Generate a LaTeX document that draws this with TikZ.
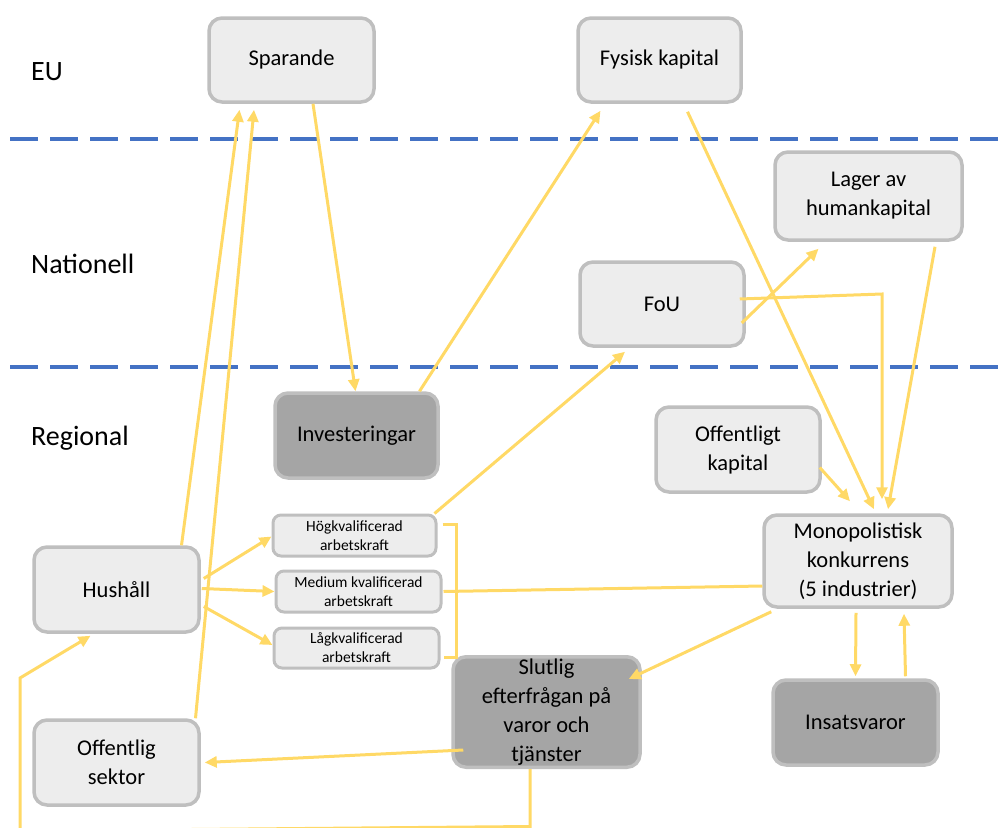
\documentclass[tikz,border=0pt]{standalone}
\usepackage{fontspec}
\setmainfont{Carlito}
\usetikzlibrary{arrows.meta}
\definecolor{boxfill}{HTML}{EDEDED}
\definecolor{boxline}{HTML}{BFBFBF}
\definecolor{darkfill}{HTML}{A5A5A5}
\definecolor{connc}{HTML}{FFD966}
\definecolor{dashblue}{HTML}{4472C4}
\begin{document}
\begin{tikzpicture}[x=1pt,y=-1pt,
  box/.style={draw=boxline, fill=boxfill, line width=3.5pt, rounded corners=13pt,
    align=center, inner sep=2pt, font=\fontsize{22.5}{29}\selectfont},
  darkbox/.style={box, fill=darkfill},
  smallbox/.style={box, rounded corners=8pt, line width=3pt, font=\fontsize{15.5}{19}\selectfont},
  level/.style={anchor=west, inner sep=0pt, font=\fontsize{28}{32}\selectfont},
  conn/.style={draw=connc, line width=3pt, -{Triangle[length=12pt,width=11pt]}},
  plain/.style={draw=connc, line width=3pt},
  sep/.style={draw=dashblue, line width=3.5pt, dash pattern=on 28pt off 12pt}
]
\useasboundingbox (0,0) rectangle (1008,827);

% separators
\draw[sep] (10,139) -- (1008,139);
\draw[sep] (10,367) -- (1008,367);

% level labels
\node[level] (eu) at (31,72) {EU};
\node[level] (nat) at (31,264) {Nationell};
\node[level] (reg) at (31,438) {Regional};

% helper corner coordinates
\coordinate (fouc) at (882,294);
\coordinate (bot1) at (530,826.5);
\coordinate (bot2) at (20,831);
\coordinate (bot3) at (20,678);

% boxes
\node[box, minimum width=165pt, minimum height=84pt] (spar) at (291.5,60) {Sparande};
\node[box, minimum width=163pt, minimum height=84pt] (fys) at (659.5,60) {Fysisk kapital};
\node[box, minimum width=187pt, minimum height=88pt] (lag) at (868.5,196) {Lager av\\humankapital};
\node[box, minimum width=164pt, minimum height=84pt] (fou) at (662,304) {FoU};
\node[darkbox, minimum width=163pt, minimum height=85pt] (inv) at (356.5,435.5) {Investeringar};
\node[box, minimum width=164pt, minimum height=85pt] (ok) at (738,449.5) {Offentligt\\kapital};
\node[box, minimum width=188pt, minimum height=92pt] (mono) at (858,561) {Monopolistisk\\konkurrens\\(5 industrier)};
\node[box, minimum width=165pt, minimum height=85pt] (hush) at (116.5,589.5) {Hushåll};
\node[smallbox, minimum width=163pt, minimum height=41pt] (hog) at (354.5,535.5) {Högkvalificerad\\arbetskraft};
\node[smallbox, minimum width=165pt, minimum height=41pt] (med) at (358.5,591.5) {Medium kvalificerad\\arbetskraft};
\node[smallbox, minimum width=165pt, minimum height=40pt] (low) at (356.5,648) {Lågkvalificerad\\arbetskraft};
\node[darkbox, minimum width=187pt, minimum height=110pt] (slut) at (546.5,712) {Slutlig\\efterfrågan på\\varor och\\tjänster};
\node[darkbox, minimum width=165pt, minimum height=85pt] (ins) at (855.5,722.5) {Insatsvaror};
\node[box, minimum width=165pt, minimum height=85pt] (off) at (116.5,762.5) {Offentlig\\sektor};

% connectors
\draw[conn] ([xshift=21.5pt]spar.south) -- ([xshift=-1pt]inv.north);
\draw[conn] ([xshift=65pt]hush.north) -- ([xshift=-52pt,yshift=-6pt]spar.south);
\draw[conn] ([xshift=79pt]off.north) -- ([xshift=-37.5pt,yshift=-6pt]spar.south);
\draw[conn] ([xshift=63pt]inv.north) -- ([xshift=-59pt,yshift=-7pt]fys.south);
\draw[conn] ([xshift=28pt,yshift=-8pt]fys.south) -- ([xshift=16pt,yshift=4pt]mono.north);
\draw[conn] ([xshift=-4pt,yshift=-19pt]fou.east) -- ([xshift=-50pt,yshift=-7pt]lag.south);
\draw[conn] ([xshift=-6pt,yshift=5pt]fou.east) -- (fouc) -- ([xshift=24pt,yshift=14pt]mono.north);
\draw[conn] ([xshift=66.5pt,yshift=-5pt]lag.south) -- ([xshift=30pt,yshift=4pt]mono.north);
\draw[conn] ([xshift=-2pt,yshift=-18pt]ok.east) -- ([xshift=-8pt,yshift=12pt]mono.north);
\draw[conn] ([xshift=-3pt]hog.north east) -- ([xshift=-37pt,yshift=-4pt]fou.south);
\draw[conn] ([xshift=3pt,yshift=11pt]hush.east) -- ([yshift=-1pt]hog.west);
\draw[conn] ([xshift=1pt,yshift=1pt]hush.east) -- (med.west);
\draw[conn] ([xshift=3pt,yshift=-17pt]hush.east) -- ([yshift=3pt]low.west);
\draw[plain] ([xshift=5pt,yshift=11.5pt]hog.east) -- ++(14,0) |- ([xshift=3pt,yshift=-9pt]low.east);
\draw[plain] ([xshift=1pt,yshift=0pt]med.east) -- ([yshift=-25pt]mono.west);
\draw[conn] ([xshift=9pt,yshift=-3pt]mono.south west) -- ([xshift=-13pt,yshift=33pt]slut.east);
\draw[conn] ([xshift=-2pt,yshift=-4pt]mono.south) -- ([yshift=2pt]ins.north);
\draw[conn] ([xshift=50pt,yshift=2pt]ins.north) -- ([xshift=46pt,yshift=-5pt]mono.south);
\draw[conn] ([xshift=12pt,yshift=-38pt]slut.west) -- ([xshift=4pt]off.east);
\draw[conn] ([xshift=-16.5pt]slut.south) -- (bot1) -- (bot2) -- (bot3) -- ([xshift=-26pt,yshift=-2pt]hush.south);
\end{tikzpicture}
\end{document}
